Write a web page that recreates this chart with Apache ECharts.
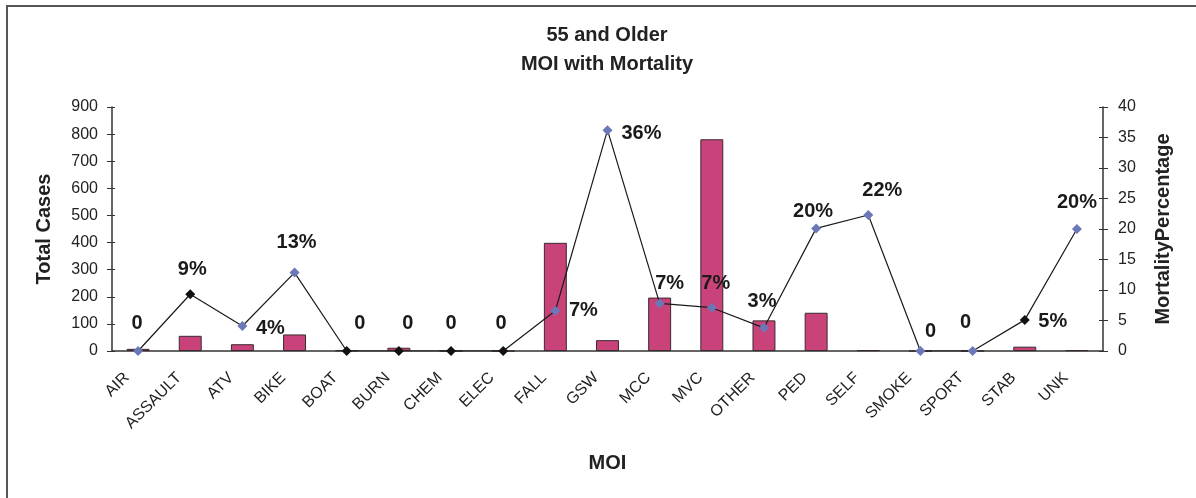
<!DOCTYPE html>
<html>
<head>
<meta charset="utf-8">
<script src="https://cdn.jsdelivr.net/npm/echarts@6/dist/echarts.min.js"></script>
<style>
  html, body { margin: 0; padding: 0; background: #fff; }
  .frame { position: absolute; left: 6px; top: 5px; width: 1190px; height: 493px;
           border-left: 2px solid #555; border-top: 2px solid #555; }
  #chart { position: absolute; left: 0; top: 0; width: 1196px; height: 498px; }
</style>
</head>
<body>
<div class="frame"></div>
<div id="chart"></div>
<script>
// MOI categories, total cases (bars) and mortality % (line)
const categories = ['AIR', 'ASSAULT', 'ATV', 'BIKE', 'BOAT', 'BURN', 'CHEM', 'ELEC', 'FALL', 'GSW',
  'MCC', 'MVC', 'OTHER', 'PED', 'SELF', 'SMOKE', 'SPORT', 'STAB', 'UNK'];
const totalCases = [8, 56, 25, 61, 2, 12, 0, 0, 399, 40, 197, 781, 113, 141, 3, 0, 0, 16, 3];
const mortality = [0, 9.3, 4.1, 12.85, 0, 0, 0, 0, 6.6, 36.2, 7.8, 7.1, 3.8, 20.1, 22.3, 0, 0, 5.1, 20.0];
const mortalityLabels = ['0', '9%', '4%', '13%', '0', '0', '0', '0', '7%', '36%', '7%', '7%', '3%',
  '20%', '22%', '0', '0', '5%', '20%'];
const casesTicks = [0, 100, 200, 300, 400, 500, 600, 700, 800, 900];
const mortalityTicks = [0, 5, 10, 15, 20, 25, 30, 35, 40];

const FONT = '"Liberation Sans", Arial, sans-serif';

// where each percent label sits relative to its marker
const labelOffset = [[-1, -28], [2, -25], [28, 2], [2, -30], [13, -28], [9, -28], [0, -28], [-2, -28],
  [28, 0], [34, 3], [10, -20], [4, -24], [-2, -26], [-3, -17], [14, -24], [10, -20], [-7, -29],
  [28, 2], [0, -27]];
// diamonds that print black in the original, the rest are blue-grey
const blackMarkers = [1, 4, 5, 6, 7, 17];

const lineData = mortality.map((v, i) => ({
  value: v,
  itemStyle: { color: blackMarkers.indexOf(i) >= 0 ? '#111' : '#6b78b8' },
  label: { formatter: mortalityLabels[i], offset: labelOffset[i] }
}));

const chart = echarts.init(document.getElementById('chart'));

const axisText = { color: '#222', fontFamily: FONT, fontSize: 16 };
const nameText = { color: '#222', fontFamily: FONT, fontSize: 20, fontWeight: 'bold' };

chart.setOption({
  animation: false,
  title: {
    text: '55 and Older\nMOI with Mortality',
    left: 602,
    top: 16,
    textAlign: 'center',
    textStyle: { color: '#222', fontFamily: FONT, fontSize: 20, fontWeight: 'bold', lineHeight: 29 }
  },
  grid: { left: 112, right: 93, top: 107, bottom: 147 },
  xAxis: [
    {
      type: 'category',
      data: categories,
      name: 'MOI',
      nameLocation: 'middle',
      nameGap: 102,
      nameTextStyle: nameText,
      axisLine: { lineStyle: { color: '#333', width: 1.5 } },
      axisTick: { length: 5, lineStyle: { color: '#333' } },
      axisLabel: Object.assign({}, axisText, { rotate: 45, margin: 13, interval: 0, padding: [0, 16, 0, 0] })
    },
    {
      // second copy only to get the ticks crossing the axis line
      type: 'category',
      data: categories,
      position: 'bottom',
      axisLine: { show: false },
      axisTick: { inside: true, length: 4, lineStyle: { color: '#333' } },
      axisLabel: { show: false }
    }
  ],
  yAxis: [
    {
      type: 'value',
      name: 'Total Cases',
      nameLocation: 'middle',
      nameGap: 58,
      nameTextStyle: nameText,
      min: casesTicks[0],
      max: casesTicks[casesTicks.length - 1],
      interval: 100,
      axisLine: { show: true, lineStyle: { color: '#333', width: 1.5 } },
      axisTick: { show: true, length: 5, lineStyle: { color: '#333' } },
      axisLabel: Object.assign({ margin: 14 }, axisText),
      splitLine: { show: false }
    },
    {
      type: 'value',
      name: 'MortalityPercentage',
      nameLocation: 'middle',
      nameGap: 50,
      nameTextStyle: nameText,
      position: 'right',
      min: mortalityTicks[0],
      max: mortalityTicks[mortalityTicks.length - 1],
      interval: 5,
      axisLine: { show: true, lineStyle: { color: '#333', width: 1.5 } },
      axisTick: { show: true, length: 5, lineStyle: { color: '#333' } },
      axisLabel: Object.assign({ margin: 15 }, axisText),
      splitLine: { show: false }
    },
    {
      type: 'value', position: 'left',
      min: 0, max: 900, interval: 100,
      axisLine: { show: false },
      axisTick: { show: true, inside: true, length: 3, lineStyle: { color: '#333' } },
      axisLabel: { show: false },
      splitLine: { show: false }
    },
    {
      type: 'value', position: 'right',
      min: 0, max: 40, interval: 5,
      axisLine: { show: false },
      axisTick: { show: true, inside: true, length: 4, lineStyle: { color: '#333' } },
      axisLabel: { show: false },
      splitLine: { show: false }
    }
  ],
  series: [
    {
      name: 'Total Cases',
      type: 'bar',
      xAxisIndex: 0,
      yAxisIndex: 0,
      data: totalCases,
      barWidth: '44%',
      itemStyle: { color: '#c9437a', borderColor: '#3a2a30', borderWidth: 1 }
    },
    {
      name: 'Mortality',
      type: 'line',
      xAxisIndex: 0,
      yAxisIndex: 1,
      data: lineData,
      symbol: 'diamond',
      symbolSize: 10,
      lineStyle: { color: '#1a1a1a', width: 1.2 },
      label: {
        show: true,
        position: 'inside',
        align: 'center',
        verticalAlign: 'middle',
        color: '#1a1a1a',
        fontFamily: FONT,
        fontSize: 20,
        fontWeight: 'bold'
      },
      z: 5
    }
  ]
});
</script>
</body>
</html>
